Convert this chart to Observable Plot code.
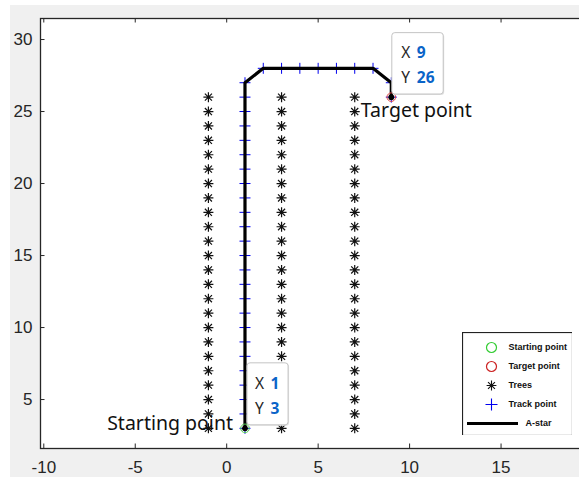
<!DOCTYPE html>
<html><head><meta charset="utf-8">
<script src="https://cdn.jsdelivr.net/npm/d3@7"></script>
<script src="https://cdn.jsdelivr.net/npm/@observablehq/plot@0.6"></script>
<style>
html,body{margin:0;padding:0;background:#fff;overflow:hidden;width:579px;height:477px}
#bg{position:absolute;left:10px;top:5px;right:0;bottom:0;background:#f0f0f0}
#chart{position:absolute;left:0;top:0;width:579px;height:477px;overflow:hidden}
#legend{position:absolute;left:462px;top:332px}
</style></head><body>
<div id="bg"></div><div id="chart"></div><div id="legend"></div>
<script>
// ---- data ----
const xTicks = [-10, -5, 0, 5, 10, 15];
const yTicks = [5, 10, 15, 20, 25, 30];
const treeX = [-1, 3, 7];
const treeY = [3,4,5,6,7,8,9,10,11,12,13,14,15,16,17,18,19,20,21,22,23,24,25,26];
const pathX = [1,1,1,1,1,1,1,1,1,1,1,1,1,1,1,1,1,1,1,1,1,1,1,1,1, 2,3,4,5,6,7,8, 9,9];
const pathY = [3,4,5,6,7,8,9,10,11,12,13,14,15,16,17,18,19,20,21,22,23,24,25,26,27, 28,28,28,28,28,28,28, 27,26];
const startPoint = {x: 1, y: 3, label: "Starting point"};
const targetPoint = {x: 9, y: 26, label: "Target point"};
const legendLabels = ["Starting point", "Target point", "Trees", "Track point", "A-star"];

// ---- derived tables ----
const trees = treeX.flatMap(x => treeY.map(y => ({x, y})));
const path = pathX.map((x, i) => ({x, y: pathY[i]}));

// ---- custom marker symbols ----
const star8 = {draw(ctx, size) {
  const r = Math.sqrt(size / Math.PI), d = r * Math.SQRT1_2;
  ctx.moveTo(-r, 0); ctx.lineTo(r, 0);
  ctx.moveTo(0, -r); ctx.lineTo(0, r);
  ctx.moveTo(-d, -d); ctx.lineTo(d, d);
  ctx.moveTo(-d, d); ctx.lineTo(d, -d);
}};
const plusSym = {draw(ctx, size) {
  const r = Math.sqrt(size / Math.PI);
  ctx.moveTo(-r, 0); ctx.lineTo(r, 0);
  ctx.moveTo(0, -r); ctx.lineTo(0, r);
}};

const W = 600, H = 477, mL = 40, mR = 8, mT = 18, mB = 29;
const plotW = W - mL - mR, plotH = H - mT - mB;
const axisColor = "#262626";
const tipBlue = "#0a64c8";
const labelFont = "'Noto Sans', 'Open Sans', sans-serif";
const fmt = d => String(d);

const chart = Plot.plot({
  width: W, height: H,
  marginLeft: mL, marginRight: mR, marginTop: mT, marginBottom: mB,
  x: {domain: [-10.18, 20], axis: null},
  y: {domain: [1.6, 31.46], axis: null},
  style: {background: "transparent", maxWidth: "none", fontFamily: "'Liberation Sans', Arial, sans-serif"},
  marks: [
    Plot.frame({fill: "white", stroke: null}),
    Plot.dot(trees, {x: "x", y: "y", symbol: star8, r: 5, stroke: "#111", strokeWidth: 1.2, fill: "none"}),
    Plot.dot(path, {x: "x", y: "y", symbol: plusSym, r: 5.5, stroke: "#0000ee", strokeWidth: 1, fill: "none"}),
    Plot.line(path, {x: "x", y: "y", stroke: "#000", strokeWidth: 3.2, curve: "linear"}),
    Plot.dot([startPoint], {x: "x", y: "y", r: 4.3, stroke: "#55cc55", strokeWidth: 1, fill: "none"}),
    Plot.dot([targetPoint], {x: "x", y: "y", r: 4.3, stroke: "#dd4444", strokeWidth: 1, fill: "none"}),
    Plot.dot([startPoint, targetPoint], {x: "x", y: "y", r: 2.9, fill: "#000", stroke: null}),
    // point labels
    Plot.text([startPoint], {x: "x", y: "y", text: "label", dx: -12, dy: 2, textAnchor: "end", lineAnchor: "bottom", fontSize: 19.5, fontFamily: labelFont, fill: "#111"}),
    Plot.text([targetPoint], {x: "x", y: "y", text: "label", dx: -30.5, dy: 19.5, textAnchor: "start", lineAnchor: "bottom", fontSize: 19.5, fontFamily: labelFont, fill: "#111"}),
    // data tips (soft shadow + box)
    Plot.rect([startPoint], {x1: "x", x2: "x", y1: "y", y2: "y", insetLeft: 3.5, insetRight: -44.6, insetTop: -64, insetBottom: 2, rx: 3, fill: "#e2e2e2", stroke: null}),
    Plot.rect([targetPoint], {x1: "x", x2: "x", y1: "y", y2: "y", insetLeft: 2, insetRight: -53.4, insetTop: -63, insetBottom: 1.6, rx: 3, fill: "#e2e2e2", stroke: null}),
    Plot.rect([startPoint], {x1: "x", x2: "x", y1: "y", y2: "y", insetLeft: 2.5, insetRight: -43.6, insetTop: -65, insetBottom: 3, rx: 3, fill: "white", stroke: "#c4c4c4", strokeWidth: 1}),
    Plot.rect([targetPoint], {x1: "x", x2: "x", y1: "y", y2: "y", insetLeft: 1, insetRight: -52.4, insetTop: -64, insetBottom: 2.6, rx: 3, fill: "white", stroke: "#c4c4c4", strokeWidth: 1}),
    Plot.text([startPoint, targetPoint], {x: "x", y: "y", text: () => "X", dx: 10, dy: -39, textAnchor: "start", lineAnchor: "bottom", fontSize: 15.5, fontFamily: labelFont, fill: axisColor}),
    Plot.text([startPoint, targetPoint], {x: "x", y: "y", text: () => "Y", dx: 10, dy: -14.5, textAnchor: "start", lineAnchor: "bottom", fontSize: 15.5, fontFamily: labelFont, fill: axisColor}),
    Plot.text([startPoint, targetPoint], {x: "x", y: "y", text: d => String(d.x), dx: 25.5, dy: -39, textAnchor: "start", lineAnchor: "bottom", fontSize: 15.5, fontWeight: "bold", fontFamily: labelFont, fill: tipBlue}),
    Plot.text([startPoint, targetPoint], {x: "x", y: "y", text: d => String(d.y), dx: 25.5, dy: -14.5, textAnchor: "start", lineAnchor: "bottom", fontSize: 15.5, fontWeight: "bold", fontFamily: labelFont, fill: tipBlue}),
    // axes
    Plot.axisX(xTicks, {anchor: "bottom", label: null, tickFormat: fmt, tickSize: 0, tickPadding: 12, fontSize: 17, fill: axisColor}),
    Plot.axisY(yTicks, {anchor: "left", label: null, tickFormat: fmt, tickSize: 0, tickPadding: 8, fontSize: 17, fill: axisColor}),
    Plot.tickX(xTicks, {x: d => d, insetTop: plotH - 4.5, stroke: axisColor, strokeWidth: 1}),
    Plot.tickX(xTicks, {x: d => d, insetBottom: plotH - 4.5, stroke: axisColor, strokeWidth: 1}),
    Plot.tickY(yTicks, {y: d => d, insetRight: plotW - 4.5, stroke: axisColor, strokeWidth: 1}),
    Plot.frame({stroke: axisColor, strokeWidth: 1.3, fill: "none"})
  ]
});
document.getElementById("chart").appendChild(chart);

// ---- legend ----
const legend = Plot.plot({
  width: 110, height: 103,
  marginLeft: 0, marginRight: 0, marginTop: 0, marginBottom: 0,
  y: {type: "point", domain: legendLabels, range: [13, 92], padding: 0, axis: null},
  style: {background: "transparent", maxWidth: "none", fontFamily: "'Liberation Sans', Arial, sans-serif"},
  marks: [
    Plot.frame({fill: "white", stroke: "#222", strokeWidth: 1.2}),
    Plot.dot(["Starting point"], {y: d => d, frameAnchor: "left", dx: 29, r: 5, stroke: "#33cc33", strokeWidth: 1.2, fill: "none"}),
    Plot.dot(["Target point"], {y: d => d, frameAnchor: "left", dx: 29, r: 5, stroke: "#cc2222", strokeWidth: 1.2, fill: "none"}),
    Plot.dot(["Trees"], {y: d => d, frameAnchor: "left", dx: 29, symbol: star8, r: 4.9, stroke: "#111", strokeWidth: 1.1, fill: "none"}),
    Plot.dot(["Track point"], {y: d => d, frameAnchor: "left", dx: 29, symbol: plusSym, r: 6, stroke: "#0000ee", strokeWidth: 1.1, fill: "none"}),
    Plot.ruleY(["A-star"], {y: d => d, insetLeft: 5, insetRight: 54, stroke: "#000", strokeWidth: 3}),
    Plot.text(legendLabels.slice(0, 4), {y: d => d, text: d => d, frameAnchor: "left", dx: 46, textAnchor: "start", fontSize: 9, fontWeight: "bold", fill: "#111"}),
    Plot.text(["A-star"], {y: d => d, text: d => d, frameAnchor: "left", dx: 63, textAnchor: "start", fontSize: 9, fontWeight: "bold", fill: "#111"})
  ]
});
document.getElementById("legend").appendChild(legend);
</script>
</body></html>
